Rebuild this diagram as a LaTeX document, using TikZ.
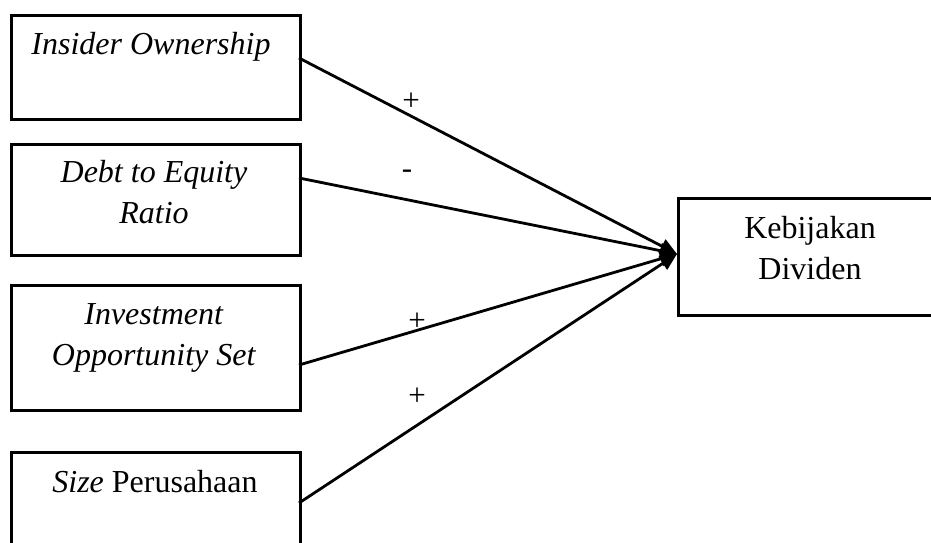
\documentclass[tikz,border=0pt]{standalone}
\usepackage{fontspec}
\setmainfont{Liberation Serif}
\usetikzlibrary{arrows.meta}
\begin{document}
\begin{tikzpicture}[x=1pt,y=-1pt,
  box/.style={draw, line width=2.8pt, rectangle, inner sep=0pt, anchor=north west},
  lbl/.style={font=\fontsize{32}{41}\selectfont, align=center, inner sep=0pt, anchor=base},
  sign/.style={font=\fontsize{31}{36}\selectfont, inner sep=0pt},
  conn/.style={line width=2.8pt, -{Triangle[length=17pt,width=15pt]}}]
\useasboundingbox (0,0) rectangle (931,543);
\clip (0,0) rectangle (931,543);
% boxes
\node[box, minimum width=289pt, minimum height=104pt] (b1) at (10,14) {};
\node[box, minimum width=289pt, minimum height=111pt] (b2) at (10,143) {};
\node[box, minimum width=289pt, minimum height=125pt] (b3) at (10,284) {};
\node[box, minimum width=289pt, minimum height=100pt] (b4) at (10,451) {};
\node[box, minimum width=266pt, minimum height=117pt] (b5) at (677,197) {};
% texts
\node[lbl] (t1) at (151,55) {\textit{Insider Ownership}};
\node[lbl] (t2) at (154,223) {\textit{Debt to Equity}\\\textit{Ratio}};
\node[lbl] (t3) at (154,365) {\textit{Investment}\\\textit{Opportunity Set}};
\node[lbl] (t4) at (155,492) {\textit{Size} Perusahaan};
\node[lbl] (t5) at (810,279) {Kebijakan\\Dividen};
% connector ends
\coordinate (s1) at (299,58);
\coordinate (s2) at (299,178);
\coordinate (s3) at (299,365);
\coordinate (s4) at (299,503);
\coordinate (tip) at (677,254);
\draw[conn] (s1) -- (tip);
\draw[conn] (s2) -- (tip);
\draw[conn] (s3) -- (tip);
\draw[conn] (s4) -- (tip);
% signs
\node[sign] (p1) at (411,102) {+};
\node[sign] (m2) at (407,174) {-};
\node[sign] (p3) at (417,322) {+};
\node[sign] (p4) at (417,397) {+};
\end{tikzpicture}
\end{document}
